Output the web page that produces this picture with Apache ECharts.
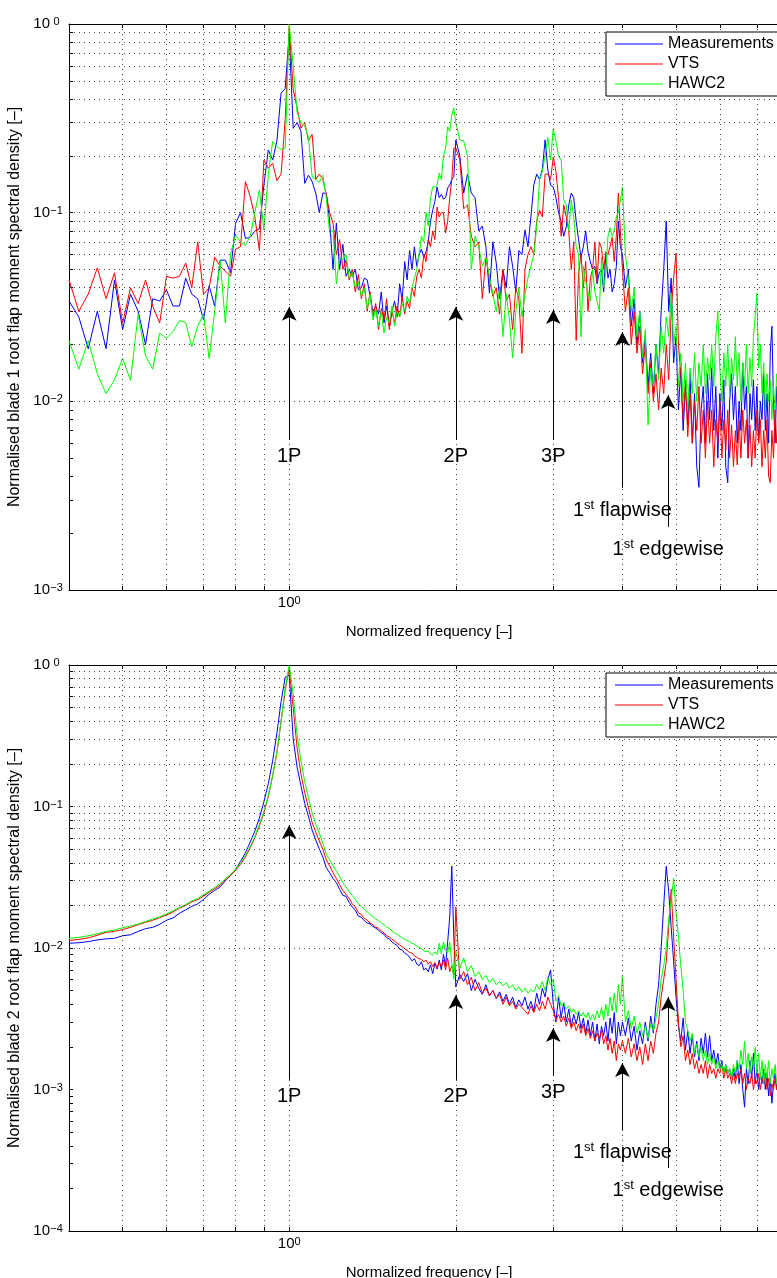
<!DOCTYPE html>
<html><head><meta charset="utf-8">
<script src="https://cdn.jsdelivr.net/npm/echarts@6/dist/echarts.min.js"></script>
<style>html,body{margin:0;padding:0;overflow:hidden;background:#fff}#c{width:800px;height:1278px}</style>
</head><body><div id="c"></div>
<script>
const FONT = '"Liberation Sans", Arial, Helvetica, sans-serif';
const seriesNames = ['Measurements', 'VTS', 'HAWC2'];
const seriesColors = ['#0000ff', '#ff0000', '#00ff00'];
const xTitle = 'Normalized frequency [\u2013]';
const yTitles = ['Normalised blade 1 root flap moment spectral density [\u2013]', 'Normalised blade 2 root flap moment spectral density [\u2013]'];

// frequency sampling of the four bands (start, step)
const segStart = [0.4, 1.0, 2.0, 4.0];
const segStep = [1/60, 1/60, 1/30, 0.05];

// ---------- top plot (blade 1) ----------
const topMeasA = [0.034,0.028,0.019,0.030,0.019,0.044,0.024,0.037,0.030,0.020,0.035,0.034,0.039,0.032,0.032,0.045,0.037,0.035,0.027,0.041,0.032,0.056,0.056,0.048,0.088,0.100,0.073,0.074,0.080,0.082,0.14,0.215,0.19,0.24,0.43,0.455];
const topVtsA = [0.044,0.030,0.037,0.051,0.035,0.048,0.026,0.040,0.033,0.044,0.032,0.026,0.046,0.045,0.046,0.054,0.040,0.070,0.037,0.040,0.058,0.052,0.049,0.046,0.064,0.066,0.146,0.122,0.095,0.063,0.19,0.172,0.183,0.148,0.16,0.31];
const topHawcA = [0.021,0.0148,0.021,0.014,0.011,0.013,0.0169,0.0129,0.029,0.0174,0.0148,0.023,0.0216,0.0234,0.0268,0.0262,0.0195,0.025,0.029,0.0169,0.03,0.056,0.026,0.06,0.076,0.07,0.067,0.075,0.1,0.132,0.081,0.16,0.238,0.225,0.216,0.22];

const topMeasB = [0.88,0.28,0.30,0.27,0.143,0.158,0.146,0.127,0.10,0.127,0.127,0.09,0.05,0.088,0.05,0.068,0.046,0.05,0.046,0.05,0.039,0.040,0.045,0.044,0.036,0.030,0.032,0.029,0.038,0.026,0.032,0.025,0.030,0.034,0.028,0.042,0.034,0.055,0.044,0.063,0.05,0.066,0.052,0.06,0.064,0.058,0.062,0.07,0.09,0.103,0.115,0.137,0.12,0.125,0.118,0.12,0.135,0.14,0.15,0.155];
const topVtsB = [0.97,0.45,0.36,0.28,0.30,0.24,0.26,0.15,0.16,0.15,0.125,0.10,0.088,0.06,0.072,0.05,0.056,0.044,0.05,0.038,0.047,0.035,0.042,0.03,0.038,0.028,0.033,0.024,0.031,0.027,0.035,0.024,0.03,0.026,0.032,0.028,0.036,0.029,0.034,0.031,0.04,0.036,0.046,0.05,0.045,0.06,0.055,0.072,0.066,0.08,0.072,0.107,0.095,0.1,0.1,0.078,0.09,0.12,0.15,0.22];
const topHawcB = [1.0,0.6,0.34,0.3,0.29,0.25,0.155,0.15,0.145,0.158,0.12,0.078,0.081,0.042,0.058,0.056,0.06,0.045,0.048,0.04,0.043,0.036,0.04,0.031,0.037,0.027,0.031,0.025,0.03,0.023,0.028,0.026,0.032,0.025,0.03,0.028,0.033,0.03,0.036,0.033,0.04,0.045,0.05,0.06,0.075,0.07,0.1,0.085,0.12,0.137,0.137,0.14,0.162,0.15,0.2,0.22,0.285,0.27,0.33,0.359];

const topMeasC = [0.243,0.2,0.127,0.16,0.127,0.12,0.08,0.085,0.066,0.0375,0.07,0.054,0.035,0.05,0.04,0.066,0.052,0.038,0.063,0.06,0.081,0.066,0.095,0.14,0.16,0.15,0.17,0.243,0.168,0.14,0.137,0.12,0.1,0.09,0.075,0.084,0.11,0.127,0.12,0.09,0.072,0.058,0.066,0.08,0.062,0.055,0.05,0.052,0.042,0.048,0.05,0.038,0.06,0.045,0.05,0.038,0.042,0.052,0.09,0.066];
const topVtsC = [0.22,0.19,0.105,0.11,0.075,0.066,0.07,0.035,0.058,0.045,0.036,0.04,0.029,0.05,0.034,0.037,0.024,0.04,0.035,0.018,0.05,0.06,0.066,0.06,0.09,0.103,0.095,0.16,0.16,0.15,0.197,0.165,0.12,0.075,0.11,0.095,0.08,0.05,0.07,0.021,0.048,0.06,0.04,0.055,0.03,0.045,0.05,0.07,0.043,0.07,0.065,0.05,0.062,0.06,0.066,0.074,0.055,0.075,0.127,0.08];
const topHawcC = [0.3,0.243,0.24,0.2,0.05,0.075,0.066,0.052,0.058,0.046,0.037,0.03,0.04,0.022,0.037,0.027,0.017,0.03,0.04,0.028,0.037,0.045,0.052,0.06,0.084,0.15,0.165,0.2,0.25,0.19,0.28,0.24,0.2,0.19,0.117,0.11,0.08,0.117,0.095,0.066,0.06,0.022,0.052,0.043,0.038,0.034,0.05,0.038,0.034,0.03,0.058,0.04,0.048,0.075,0.083,0.075,0.08,0.095,0.1,0.117];

const topMeasD = [0.06,0.04,0.05,0.025,0.035,0.02,0.03,0.016,0.022,0.012,0.018,0.011,0.02,0.014,0.03,0.05,0.09,0.03,0.045,0.016,0.022,0.009,0.015,0.007,0.012,0.0075,0.014,0.006,0.011,0.0045,0.0035,0.009,0.012,0.006,0.014,0.008,0.015,0.007,0.012,0.005,0.011,0.007,0.013,0.0045,0.0037,0.01,0.014,0.008,0.012,0.006,0.01,0.007,0.016,0.009,0.012,0.005,0.011,0.008,0.013,0.007,0.012,0.006,0.01,0.008,0.014,0.007,0.011,0.006,0.018,0.025,0.01,0.006,0.012,0.008,0.011,0.007,0.01];
const topVtsD = [0.05,0.03,0.04,0.02,0.03,0.018,0.025,0.014,0.02,0.011,0.016,0.01,0.014,0.009,0.015,0.011,0.02,0.013,0.03,0.045,0.061,0.02,0.014,0.008,0.013,0.0065,0.011,0.006,0.01,0.007,0.012,0.006,0.009,0.005,0.01,0.006,0.009,0.0045,0.008,0.006,0.01,0.005,0.008,0.0055,0.009,0.005,0.0075,0.0045,0.007,0.0046,0.008,0.005,0.009,0.006,0.008,0.005,0.0075,0.0045,0.007,0.005,0.009,0.006,0.008,0.0045,0.007,0.005,0.008,0.004,0.0037,0.007,0.005,0.009,0.006,0.008,0.005,0.007,0.006];
const topHawcD = [0.137,0.06,0.045,0.03,0.04,0.022,0.03,0.017,0.024,0.0075,0.015,0.012,0.02,0.013,0.025,0.018,0.028,0.022,0.0375,0.02,0.025,0.012,0.018,0.01,0.016,0.009,0.015,0.011,0.018,0.01,0.016,0.012,0.02,0.011,0.017,0.013,0.02,0.012,0.022,0.03,0.015,0.01,0.018,0.012,0.02,0.011,0.017,0.013,0.022,0.012,0.018,0.01,0.016,0.012,0.02,0.011,0.017,0.012,0.022,0.028,0.0375,0.015,0.02,0.011,0.016,0.009,0.014,0.01,0.013,0.008,0.012,0.009,0.014,0.01,0.012,0.008,0.011];

// ---------- bottom plot (blade 2) ----------
const botMeasA = [0.0108,0.0109,0.0111,0.0114,0.0116,0.0117,0.0122,0.0124,0.0131,0.0137,0.0140,0.0147,0.0157,0.0163,0.0176,0.0186,0.0197,0.0205,0.0220,0.0240,0.0255,0.0270,0.0298,0.0327,0.036,0.041,0.047,0.056,0.067,0.083,0.108,0.145,0.21,0.33,0.55,0.82];
const botVtsA = [0.0113,0.0115,0.0118,0.0123,0.0129,0.0131,0.0135,0.0140,0.0146,0.0152,0.0157,0.0164,0.0171,0.0180,0.0191,0.0200,0.0212,0.0220,0.0232,0.0248,0.0262,0.0278,0.0302,0.0325,0.0355,0.039,0.044,0.051,0.060,0.073,0.090,0.118,0.165,0.24,0.40,0.66];
const botHawcA = [0.0117,0.0119,0.0122,0.0126,0.0131,0.0134,0.0139,0.0143,0.0148,0.0154,0.0160,0.0166,0.0174,0.0183,0.0193,0.0203,0.0215,0.0224,0.0238,0.0252,0.0268,0.0285,0.0310,0.0330,0.036,0.040,0.045,0.052,0.061,0.075,0.092,0.12,0.165,0.24,0.40,0.68];

const botMeasB = [0.85,0.30,0.19,0.14,0.105,0.085,0.068,0.058,0.050,0.044,0.037,0.034,0.031,0.029,0.026,0.0235,0.0232,0.021,0.0195,0.0185,0.0168,0.0165,0.0156,0.0150,0.0148,0.0142,0.0138,0.0134,0.0128,0.0125,0.0118,0.0116,0.0110,0.0107,0.0104,0.0098,0.0097,0.0092,0.0090,0.0086,0.0081,0.0084,0.0077,0.0075,0.0080,0.0070,0.0072,0.0068,0.0076,0.0066,0.0078,0.0071,0.0082,0.0070,0.0090,0.0075,0.0110,0.0166,0.038,0.012];
const botVtsB = [0.95,0.50,0.26,0.17,0.125,0.098,0.077,0.066,0.057,0.050,0.042,0.038,0.034,0.031,0.028,0.0255,0.024,0.0225,0.0205,0.0195,0.0178,0.0172,0.0162,0.0157,0.0150,0.0146,0.0140,0.0138,0.0132,0.0128,0.0122,0.0120,0.0115,0.0112,0.0108,0.0105,0.0102,0.0099,0.0096,0.0093,0.0092,0.0088,0.0086,0.0084,0.0083,0.0080,0.0082,0.0077,0.0080,0.0074,0.0079,0.0072,0.0080,0.0074,0.0082,0.0070,0.0085,0.0068,0.0075,0.0065];
const botHawcB = [1.0,0.62,0.32,0.21,0.15,0.115,0.090,0.075,0.065,0.055,0.046,0.042,0.038,0.035,0.032,0.029,0.027,0.025,0.0235,0.022,0.0205,0.0197,0.0188,0.018,0.0172,0.0166,0.016,0.0156,0.0151,0.0146,0.0141,0.0137,0.0132,0.0128,0.0125,0.0121,0.0118,0.0115,0.0113,0.0111,0.0108,0.0106,0.0103,0.0101,0.0099,0.0096,0.0094,0.0095,0.0091,0.0089,0.0094,0.0090,0.0108,0.0091,0.0110,0.0096,0.0092,0.0110,0.0079,0.0060];

const botMeasC = [0.0053,0.0065,0.0058,0.0066,0.0050,0.0060,0.0052,0.0047,0.0055,0.0046,0.0050,0.0044,0.0049,0.0042,0.0047,0.0040,0.0045,0.0038,0.0043,0.0039,0.0045,0.0037,0.0042,0.0036,0.0048,0.0040,0.0052,0.0045,0.0060,0.0070,0.0040,0.0030,0.0045,0.0032,0.0041,0.0030,0.0037,0.0028,0.0034,0.0029,0.0035,0.0027,0.0032,0.0025,0.0031,0.0024,0.0030,0.0022,0.0029,0.0021,0.0028,0.0024,0.0030,0.0022,0.0032,0.0025,0.0035,0.0021,0.0030,0.0024];
const botVtsC = [0.0195,0.0060,0.0068,0.0055,0.0062,0.0050,0.0057,0.0048,0.0052,0.0046,0.0050,0.0044,0.0047,0.0040,0.0045,0.0039,0.0042,0.0037,0.0040,0.0038,0.0036,0.0034,0.0039,0.0035,0.0040,0.0036,0.0042,0.0037,0.0045,0.0040,0.0036,0.0031,0.0034,0.0030,0.0033,0.0028,0.0032,0.0027,0.0030,0.0026,0.0029,0.0025,0.0029,0.0024,0.0027,0.0023,0.0026,0.0022,0.0025,0.0023,0.0026,0.0021,0.0024,0.0019,0.0023,0.0018,0.0022,0.0016,0.0021,0.0019];
const botHawcC = [0.0095,0.0072,0.0085,0.0068,0.0075,0.0063,0.0068,0.0060,0.0064,0.0057,0.0061,0.0055,0.0058,0.0054,0.0057,0.0052,0.0055,0.0050,0.0053,0.0049,0.0052,0.0048,0.0051,0.0049,0.0055,0.0051,0.0058,0.0050,0.0062,0.0055,0.0060,0.0042,0.0046,0.0039,0.0041,0.0037,0.0039,0.0035,0.0037,0.0034,0.0036,0.0033,0.0035,0.0032,0.0035,0.0031,0.0034,0.0031,0.0036,0.0032,0.0038,0.0031,0.0040,0.0033,0.0045,0.0036,0.0048,0.0035,0.0055,0.0040];

const botMeasD = [0.0030,0.0024,0.0032,0.0022,0.0028,0.0019,0.0026,0.0021,0.0030,0.0022,0.0033,0.0025,0.0040,0.0055,0.0100,0.020,0.0378,0.025,0.014,0.008,0.0045,0.0028,0.0022,0.0032,0.0019,0.0026,0.0018,0.0024,0.0017,0.0022,0.0016,0.0023,0.0018,0.0025,0.0017,0.0024,0.0016,0.0019,0.0015,0.0018,0.0014,0.0016,0.0013,0.0015,0.0013,0.0014,0.0012,0.0014,0.0012,0.0016,0.0011,0.0015,0.0010,0.00075,0.0014,0.0011,0.0016,0.0012,0.0018,0.0011,0.0014,0.0010,0.0013,0.0011,0.0014,0.0010,0.0013,0.0009,0.0012,0.0008,0.0011,0.0013,0.0010,0.0012,0.0009,0.0011,0.0010];
const botVtsD = [0.0022,0.0018,0.0023,0.0017,0.0021,0.0016,0.0020,0.0015,0.0021,0.0016,0.0022,0.0018,0.0025,0.0030,0.0045,0.0060,0.0080,0.0140,0.0260,0.0120,0.0060,0.0030,0.0020,0.0024,0.0016,0.0019,0.0015,0.0018,0.0014,0.0016,0.0013,0.0015,0.0013,0.0016,0.0012,0.0015,0.0013,0.0014,0.0012,0.0014,0.0013,0.0015,0.0012,0.0014,0.0012,0.0013,0.0011,0.0013,0.0011,0.0013,0.0012,0.0014,0.0011,0.0013,0.0010,0.0012,0.0011,0.0013,0.0010,0.0012,0.0011,0.0013,0.0010,0.0012,0.0011,0.0013,0.0010,0.0012,0.0009,0.0011,0.0010,0.0012,0.0010,0.0011,0.0009,0.0011,0.0010];
const botHawcD = [0.0063,0.0030,0.0036,0.0027,0.0033,0.0025,0.0030,0.0024,0.0028,0.0023,0.0029,0.0026,0.0032,0.0040,0.0060,0.0075,0.0100,0.0160,0.0220,0.0310,0.0180,0.0120,0.0075,0.0050,0.0030,0.0026,0.0022,0.0025,0.0018,0.0021,0.0017,0.0020,0.0016,0.0019,0.0015,0.0018,0.0015,0.0017,0.0014,0.0016,0.0014,0.0015,0.0013,0.0015,0.0013,0.0014,0.0012,0.0015,0.0013,0.0016,0.0014,0.0019,0.0015,0.0022,0.0014,0.0018,0.0013,0.0017,0.0014,0.0020,0.0013,0.0018,0.0012,0.0016,0.0011,0.0015,0.0012,0.0016,0.0011,0.0014,0.0012,0.0015,0.0011,0.0013,0.0010,0.0012,0.0011];

// ---------- annotations ----------
const arrowLabels = ['1P', '2P', '3P', '1st flapwise', '1st edgewise'];
const arrowFreq = [1, 2, 3, 4.0, 4.84];
const topArrowTip = [0.0317, 0.0317, 0.0305, 0.0233, 0.0108];
const topArrowBase = [0.00624, 0.00624, 0.00624, 0.00348, 0.00216];
const botArrowTip = [0.074, 0.00466, 0.00272, 0.00154, 0.00451];
const botArrowBase = [0.00117, 0.00117, 0.00125, 0.000518, 0.000279];

// ---------- axes ticks ----------
const xTickValues = [0.4, 0.5, 0.6, 0.7, 0.8, 0.9, 1, 2, 3, 4, 5, 6, 7, 8];
const xLabelValues = [1];
const yRanges = [[0.001, 1], [0.0001, 1]];

function decadeTicks(lo, hi) {
  const out = [];
  for (let e = Math.round(Math.log10(lo)); e < Math.round(Math.log10(hi)); e++)
    for (let m = 1; m < 10; m++) out.push(+(m * Math.pow(10, e)).toPrecision(3));
  out.push(hi);
  return out;
}
function isDecade(v) { const l = Math.log10(v); return Math.abs(l - Math.round(l)) < 1e-6; }
function powLabel(v) {
  if (!isDecade(v)) return '';
  const e = Math.round(Math.log10(v));
  return '{b|10}{s|' + (e < 0 ? '\u2212' + (-e) : e) + '}';
}
const powRichX = {
  b: { fontSize: 15, fontFamily: FONT, color: '#000', lineHeight: 15, verticalAlign: 'bottom' },
  s: { fontSize: 11, fontFamily: FONT, color: '#000', lineHeight: 11, verticalAlign: 'top', padding: [0, 0, 8, 0] }
};
const powRichY = {
  b: { fontSize: 15, fontFamily: FONT, color: '#000', lineHeight: 15, verticalAlign: 'bottom' },
  s: { fontSize: 11, fontFamily: FONT, color: '#000', lineHeight: 11, verticalAlign: 'top', padding: [0, 0, 8, 0], width: 13, align: 'left' }
};
function build(parts) {
  const out = [];
  parts.forEach((arr, s) => arr.forEach((v, i) => out.push([segStart[s] + i * segStep[s], v])));
  return out;
}
function richLabel(t) {
  if (t.indexOf('1st') === 0) return '{n|1}{s|st}{n|' + t.slice(3) + '}';
  return '{n|' + t + '}';
}

function xAxisCfg(gridIndex, position, main) {
  return {
    type: 'log', logBase: 10, gridIndex, position, min: 0.4, max: 8,
    axisLine: { show: true, onZero: false, lineStyle: { color: '#000', width: 1 } },
    axisTick: { show: true, inside: true, length: 4, customValues: xTickValues, lineStyle: { color: '#000', width: 1 } },
    minorTick: { show: false },
    axisLabel: main ? { show: true, customValues: xLabelValues, formatter: powLabel, margin: 5, rich: powRichX } : { show: false },
    splitLine: { show: false },
    name: main ? xTitle : '', nameLocation: 'middle', nameGap: 34,
    nameTextStyle: { fontSize: 15, color: '#000', fontFamily: FONT }
  };
}
function yAxisCfg(gridIndex) {
  const r = yRanges[gridIndex];
  const ticks = decadeTicks(r[0], r[1]);
  return {
    type: 'log', logBase: 10, gridIndex, position: 'left', min: r[0], max: r[1],
    axisLine: { show: true, onZero: false, lineStyle: { color: '#000', width: 1 } },
    axisTick: { show: true, inside: true, length: 4, customValues: ticks, lineStyle: { color: '#000', width: 1 } },
    minorTick: { show: false },
    axisLabel: { show: true, customValues: ticks.filter(isDecade), formatter: powLabel, margin: 6, rich: powRichY },
    splitLine: { show: false },
    name: yTitles[gridIndex], nameLocation: 'middle', nameRotate: 90, nameGap: 42,
    nameTextStyle: { fontSize: 16, color: '#000', fontFamily: FONT }
  };
}
function legendCfg(top) {
  return {
    show: true, orient: 'vertical', left: 606, top, data: seriesNames,
    icon: 'rect', itemWidth: 48, itemHeight: 1, itemGap: 0, padding: [2, 40, 2, 9],
    backgroundColor: '#fff', borderColor: '#000', borderWidth: 1, borderRadius: 0,
    textStyle: { fontSize: 16, color: '#000', fontFamily: FONT, lineHeight: 20 },
    selectedMode: false, z: 10
  };
}
function gridSeries(xi, yi, gi) {
  const yt = decadeTicks(yRanges[gi][0], yRanges[gi][1]);
  const d = [];
  xTickValues.slice(1, -1).forEach(v => d.push({ xAxis: v }));
  yt.slice(1, -1).forEach(v => d.push({ yAxis: v }));
  return {
    type: 'line', xAxisIndex: xi, yAxisIndex: yi, data: [], silent: true, z: 1,
    markLine: { silent: true, symbol: ['none', 'none'], animation: false, label: { show: false },
      lineStyle: { color: '#444', width: 1, type: [1, 4] }, emphasis: { disabled: true }, data: d }
  };
}
function dataSeries(k, xi, yi, parts) {
  return {
    type: 'line', name: seriesNames[k], xAxisIndex: xi, yAxisIndex: yi, data: build(parts),
    symbol: 'none', showSymbol: false, smooth: false, silent: true, z: 3,
    lineStyle: { width: 1, color: seriesColors[k] }, itemStyle: { color: seriesColors[k] }
  };
}
function arrowSeries(xi, yi, tips, bases) {
  const rich = {
    n: { fontSize: 20, fontFamily: FONT, color: '#000', lineHeight: 24 },
    s: { fontSize: 13, fontFamily: FONT, color: '#000', lineHeight: 14, verticalAlign: 'top' }
  };
  const d = arrowFreq.map((f, i) => [
    { coord: [f, bases[i]], symbol: 'none',
      label: { show: true, position: 'start', distance: arrowLabels[i].indexOf('1st') === 0 ? 11 : 5,
        formatter: richLabel(arrowLabels[i]), rich } },
    { coord: [f, tips[i]], symbol: 'arrow', symbolSize: [11, 14] }
  ]);
  return {
    type: 'line', xAxisIndex: xi, yAxisIndex: yi, data: [], silent: true, z: 5,
    markLine: { silent: true, animation: false, symbol: ['none', 'arrow'],
      lineStyle: { color: '#000', width: 1, type: 'solid' }, emphasis: { disabled: true },
      label: { show: true, position: 'start', color: '#000' }, data: d }
  };
}

const chart = echarts.init(document.getElementById('c'), null, { renderer: 'canvas' });
chart.setOption({
  animation: false,
  backgroundColor: '#fff',
  textStyle: { fontFamily: FONT },
  grid: [
    { left: 69, top: 24, width: 720, height: 566, outerBoundsMode: 'none', containLabel: false },
    { left: 69, top: 665, width: 720, height: 566, outerBoundsMode: 'none', containLabel: false }
  ],
  legend: [legendCfg(32), legendCfg(673)],
  xAxis: [xAxisCfg(0, 'bottom', true), xAxisCfg(0, 'top', false), xAxisCfg(1, 'bottom', true), xAxisCfg(1, 'top', false)],
  yAxis: [yAxisCfg(0), yAxisCfg(1)],
  series: [
    gridSeries(0, 0, 0),
    gridSeries(2, 1, 1),
    dataSeries(0, 0, 0, [topMeasA, topMeasB, topMeasC, topMeasD]),
    dataSeries(1, 0, 0, [topVtsA, topVtsB, topVtsC, topVtsD]),
    dataSeries(2, 0, 0, [topHawcA, topHawcB, topHawcC, topHawcD]),
    dataSeries(0, 2, 1, [botMeasA, botMeasB, botMeasC, botMeasD]),
    dataSeries(1, 2, 1, [botVtsA, botVtsB, botVtsC, botVtsD]),
    dataSeries(2, 2, 1, [botHawcA, botHawcB, botHawcC, botHawcD]),
    arrowSeries(0, 0, topArrowTip, topArrowBase),
    arrowSeries(2, 1, botArrowTip, botArrowBase)
  ]
});
</script></body></html>
